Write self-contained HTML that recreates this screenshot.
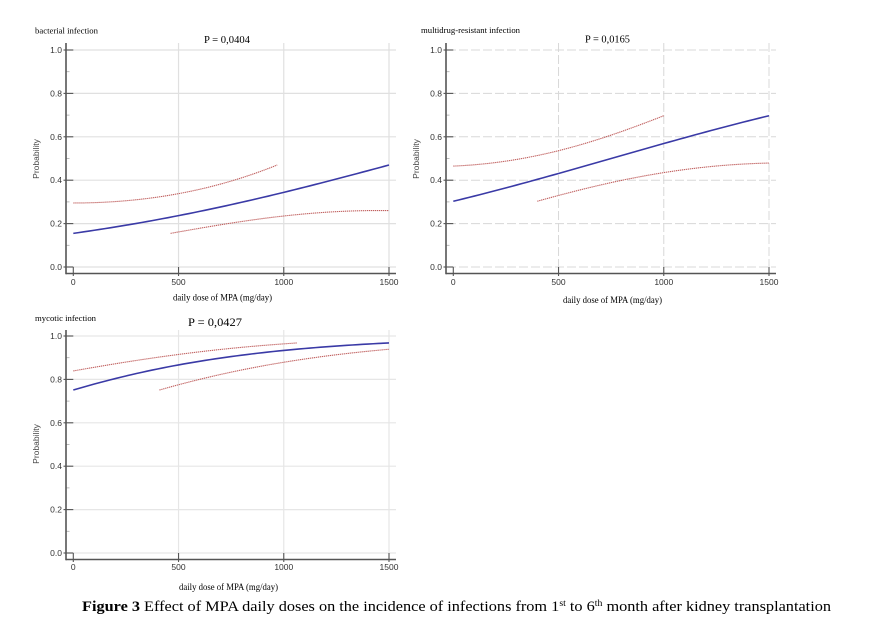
<!DOCTYPE html>
<html>
<head>
<meta charset="utf-8">
<style>
  html,body{margin:0;padding:0;background:#fff;}
  svg{display:block;}
  .tk{font-family:"Liberation Sans",sans-serif;font-size:8.5px;fill:#333;}
  .yl{font-family:"Liberation Sans",sans-serif;font-size:8.5px;fill:#444;}
  .sr{font-family:"Liberation Serif",serif;fill:#000;}
</style>
</head>
<body>
<svg id="s" width="869" height="631" viewBox="0 0 869 631" xmlns="http://www.w3.org/2000/svg">
  <rect width="869" height="631" fill="#fff"/>
  <g id="g1"></g>
  <g id="g2"></g>
  <g id="g3"></g>

  <!-- Chart 1 texts -->
  <text class="sr" x="35" y="33.5" font-size="8.5" textLength="63" lengthAdjust="spacingAndGlyphs">bacterial infection</text>
  <text class="sr" x="204" y="43" font-size="10" textLength="46" lengthAdjust="spacingAndGlyphs">P = 0,0404</text>
  <g class="tk" text-anchor="end">
    <text x="62" y="53">1.0</text>
    <text x="62" y="96.4">0.8</text>
    <text x="62" y="139.8">0.6</text>
    <text x="62" y="183.2">0.4</text>
    <text x="62" y="226.6">0.2</text>
    <text x="62" y="270">0.0</text>
  </g>
  <g class="tk" text-anchor="middle">
    <text x="73.3" y="285">0</text>
    <text x="178.5" y="285">500</text>
    <text x="283.8" y="285">1000</text>
    <text x="389" y="285">1500</text>
  </g>
  <text class="yl" transform="translate(39,159) rotate(-90)" text-anchor="middle">Probability</text>
  <text class="sr" x="173" y="300.5" font-size="9" textLength="99" lengthAdjust="spacingAndGlyphs">daily dose of MPA (mg/day)</text>

  <!-- Chart 2 texts -->
  <text class="sr" x="421" y="33" font-size="8.5" textLength="99" lengthAdjust="spacingAndGlyphs">multidrug-resistant infection</text>
  <text class="sr" x="585" y="42.5" font-size="10" textLength="45" lengthAdjust="spacingAndGlyphs">P = 0,0165</text>
  <g class="tk" text-anchor="end">
    <text x="442" y="53">1.0</text>
    <text x="442" y="96.4">0.8</text>
    <text x="442" y="139.8">0.6</text>
    <text x="442" y="183.2">0.4</text>
    <text x="442" y="226.6">0.2</text>
    <text x="442" y="270">0.0</text>
  </g>
  <g class="tk" text-anchor="middle">
    <text x="453.3" y="285">0</text>
    <text x="558.5" y="285">500</text>
    <text x="663.8" y="285">1000</text>
    <text x="769" y="285">1500</text>
  </g>
  <text class="yl" transform="translate(419,159) rotate(-90)" text-anchor="middle">Probability</text>
  <text class="sr" x="563" y="303" font-size="9" textLength="99" lengthAdjust="spacingAndGlyphs">daily dose of MPA (mg/day)</text>

  <!-- Chart 3 texts -->
  <text class="sr" x="35" y="321" font-size="8.5" textLength="61" lengthAdjust="spacingAndGlyphs">mycotic infection</text>
  <text class="sr" x="188" y="326" font-size="12" textLength="54" lengthAdjust="spacingAndGlyphs">P = 0,0427</text>
  <g class="tk" text-anchor="end">
    <text x="62" y="339">1.0</text>
    <text x="62" y="382.4">0.8</text>
    <text x="62" y="425.8">0.6</text>
    <text x="62" y="469.2">0.4</text>
    <text x="62" y="512.6">0.2</text>
    <text x="62" y="556">0.0</text>
  </g>
  <g class="tk" text-anchor="middle">
    <text x="73.3" y="570">0</text>
    <text x="178.5" y="570">500</text>
    <text x="283.8" y="570">1000</text>
    <text x="389" y="570">1500</text>
  </g>
  <text class="yl" transform="translate(39,444) rotate(-90)" text-anchor="middle">Probability</text>
  <text class="sr" x="179" y="590" font-size="9" textLength="99" lengthAdjust="spacingAndGlyphs">daily dose of MPA (mg/day)</text>

  <!-- Caption -->
  <text class="sr" x="82" y="611" font-size="15" textLength="749" lengthAdjust="spacingAndGlyphs"><tspan font-weight="bold">Figure 3</tspan> Effect of MPA daily doses on the incidence of infections from 1<tspan font-size="9" dy="-5">st</tspan><tspan dy="5"> to 6</tspan><tspan font-size="9" dy="-5">th</tspan><tspan dy="5"> month after kidney transplantation</tspan></text>
</svg>

<script>
(function(){
  var NS="http://www.w3.org/2000/svg";
  function el(parent,name,attrs){var e=document.createElementNS(NS,name);for(var k in attrs)e.setAttribute(k,attrs[k]);parent.appendChild(e);return e;}
  function logit(p){return Math.log(p/(1-p));}
  function inv(l){return 1/(1+Math.exp(-l));}
  function lin(p0,p1){var a=logit(p0),b=logit(p1);return function(x){return inv(a+(b-a)*x/1500);};}
  function quad(pts){
    var L=pts.map(function(q){return [q[0],logit(q[1])];});
    return function(x){
      var s=0;
      for(var i=0;i<3;i++){var t=L[i][1];for(var j=0;j<3;j++){if(j!==i)t*=(x-L[j][0])/(L[i][0]-L[j][0]);}s+=t;}
      return inv(s);
    };
  }
  function chart(g,c){
    var X=function(x){return c.x0+(c.x1-c.x0)*x/1500;};
    var Y=function(p){return c.yb-(c.yb-c.yt)*p;};
    for(var i=0;i<=5;i++){
      var y=Y(i*0.2);
      el(g,'line',{x1:c.ax+1,y1:y,x2:c.ar,y2:y,stroke:c.gc,'stroke-width':c.gw,'stroke-dasharray':c.dash||'none'});
    }
    [500,1000,1500].forEach(function(v){
      el(g,'line',{x1:X(v),y1:c.at,x2:X(v),y2:c.ay-1,stroke:c.gc,'stroke-width':c.gw,'stroke-dasharray':c.dash||'none'});
    });
    for(var k=1;k<10;k+=2){
      var ym=Y(k*0.1);
      el(g,'line',{x1:c.ax,y1:ym,x2:c.ax+3.5,y2:ym,stroke:'#aaa','stroke-width':0.8});
    }
    el(g,'line',{x1:c.ax,y1:c.at,x2:c.ax,y2:c.ay+0.8,stroke:'#555','stroke-width':1.6});
    el(g,'line',{x1:c.ax,y1:c.ay,x2:c.ar,y2:c.ay,stroke:'#555','stroke-width':1.6});
    for(var i2=0;i2<=5;i2++){
      var yy=Y(i2*0.2);
      el(g,'line',{x1:c.ax-2.5,y1:yy,x2:c.x0,y2:yy,stroke:'#555','stroke-width':1.1});
    }
    [0,500,1000,1500].forEach(function(v){
      el(g,'line',{x1:X(v),y1:Y(0),x2:X(v),y2:c.ay+2.5,stroke:'#555','stroke-width':1.1});
    });
    function path(f,xa,xb,attrs){
      var d='',n=60;
      for(var i=0;i<=n;i++){var x=xa+(xb-xa)*i/n;d+=(i?'L':'M')+X(x).toFixed(2)+','+Y(f(x)).toFixed(2);}
      attrs.d=d;attrs.fill='none';el(g,'path',attrs);
    }
    var red={stroke:'#c0605f','stroke-width':1.1,'stroke-dasharray':'1.3,0.7'};
    path(quad(c.up),0,c.upEnd,Object.assign({},red));
    path(quad(c.lo),c.loStart,1500,Object.assign({},red));
    path(lin(c.m0,c.m1),0,1500,{stroke:'#3a3aa6','stroke-width':1.6});
  }
  chart(document.getElementById('g1'),{
    x0:73.3,x1:389,yt:50,yb:267,ax:66,ay:273.5,at:43,ar:396,gc:'#e0e0e0',gw:1.2,
    m0:0.155,m1:0.47,
    up:[[0,0.295],[500,0.338],[969,0.47]],upEnd:969,
    lo:[[462,0.155],[1000,0.235],[1500,0.26]],loStart:462
  });
  chart(document.getElementById('g2'),{
    x0:453.3,x1:769,yt:50,yb:267,ax:446,ay:273.5,at:43,ar:776,gc:'#d8d8d8',gw:1,dash:'9,3',
    m0:0.303,m1:0.697,
    up:[[0,0.465],[500,0.536],[1000,0.697]],upEnd:1000,
    lo:[[399,0.303],[1000,0.435],[1500,0.479]],loStart:399
  });
  chart(document.getElementById('g3'),{
    x0:73.3,x1:389,yt:336,yb:553,ax:66,ay:559.5,at:330,ar:396,gc:'#e6e6e6',gw:1.2,
    m0:0.751,m1:0.968,
    up:[[0,0.839],[500,0.915],[1064,0.968]],upEnd:1064,
    lo:[[409,0.751],[1000,0.879],[1500,0.939]],loStart:409
  });
})();
</script>
</body>
</html>
